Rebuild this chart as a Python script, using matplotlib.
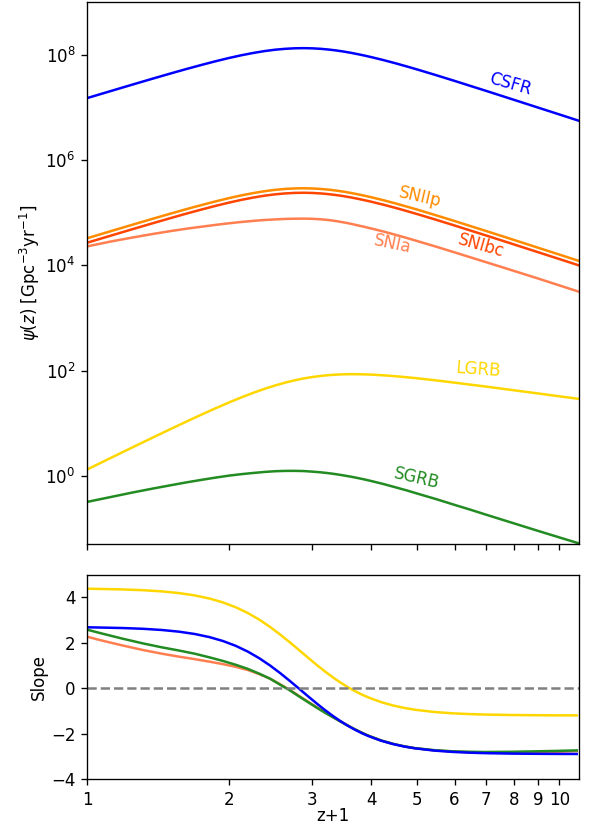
import matplotlib
matplotlib.use('Agg')
import matplotlib.pyplot as plt
import numpy as np
from matplotlib.ticker import NullLocator

# redshift grid (z+1) for the rate curves
zp1 = [1.0, 1.125, 1.25, 1.375, 1.5, 1.625, 1.75, 1.875, 2.0, 2.125,
       2.25, 2.375, 2.5, 2.625, 2.75, 2.875, 3.0, 3.125, 3.25, 3.375,
       3.5, 3.625, 3.75, 3.875, 4.0, 4.25, 4.5, 4.75, 5.0, 5.5,
       6.0, 6.5, 7.0, 8.0, 9.0, 10.0, 11.0]

# log10 of the volumetric rates [Gpc^-3 yr^-1]
log_csfr = [7.175, 7.312, 7.434, 7.543, 7.641, 7.729, 7.807, 7.877, 7.938, 7.990,
            8.033, 8.068, 8.094, 8.111, 8.121, 8.124, 8.120, 8.111, 8.097, 8.079,
            8.058, 8.034, 8.008, 7.981, 7.953, 7.895, 7.836, 7.777, 7.719, 7.607,
            7.502, 7.403, 7.312, 7.145, 6.997, 6.865, 6.745]
log_sniip = [4.515, 4.652, 4.774, 4.883, 4.981, 5.069, 5.147, 5.217, 5.278, 5.330,
             5.373, 5.408, 5.434, 5.451, 5.461, 5.464, 5.460, 5.451, 5.437, 5.419,
             5.398, 5.374, 5.348, 5.321, 5.293, 5.235, 5.176, 5.117, 5.059, 4.947,
             4.842, 4.743, 4.652, 4.485, 4.337, 4.205, 4.085]
log_snibc = [4.430, 4.567, 4.689, 4.798, 4.896, 4.984, 5.062, 5.132, 5.193, 5.245,
             5.288, 5.323, 5.349, 5.366, 5.376, 5.379, 5.375, 5.366, 5.352, 5.334,
             5.313, 5.289, 5.263, 5.236, 5.208, 5.150, 5.091, 5.032, 4.974, 4.862,
             4.757, 4.658, 4.567, 4.400, 4.252, 4.120, 4.000]
log_snia = [4.360, 4.455, 4.530, 4.595, 4.650, 4.697, 4.735, 4.770, 4.800, 4.825,
            4.845, 4.862, 4.873, 4.882, 4.886, 4.888, 4.884, 4.875, 4.860, 4.840,
            4.815, 4.788, 4.758, 4.729, 4.700, 4.641, 4.580, 4.521, 4.462, 4.352,
            4.247, 4.150, 4.060, 3.897, 3.753, 3.620, 3.500]
log_lgrb = [0.125, 0.349, 0.549, 0.728, 0.890, 1.037, 1.171, 1.291, 1.400, 1.497,
            1.582, 1.657, 1.720, 1.774, 1.818, 1.854, 1.881, 1.902, 1.917, 1.927,
            1.933, 1.935, 1.934, 1.931, 1.927, 1.913, 1.896, 1.877, 1.857, 1.816,
            1.774, 1.735, 1.699, 1.630, 1.570, 1.515, 1.466]
log_sgrb = [-0.490, -0.395, -0.310, -0.238, -0.175, -0.118, -0.070, -0.027, 0.010, 0.038,
            0.060, 0.079, 0.093, 0.099, 0.100, 0.096, 0.085, 0.072, 0.055, 0.035,
            0.012, -0.012, -0.038, -0.065, -0.094, -0.152, -0.213, -0.271, -0.331, -0.440,
            -0.546, -0.641, -0.733, -0.895, -1.038, -1.164, -1.277]

# logarithmic slopes d log(psi) / d log(1+z), from finite differences
zp1_slope = [1.0, 1.065, 1.19, 1.315, 1.44, 1.565, 1.69, 1.815, 1.94, 2.065,
             2.19, 2.315, 2.44, 2.565, 2.69, 2.815, 2.94, 3.065, 3.19, 3.315,
             3.44, 3.565, 3.69, 3.815, 3.94, 4.19, 4.44, 4.69, 4.94, 5.44,
             5.94, 6.44, 6.94, 7.94, 8.94, 9.94, 10.88]
slope_csfr = [2.683, 2.672, 2.650, 2.616, 2.564, 2.490, 2.388, 2.252, 2.078, 1.865,
              1.611, 1.321, 1.001, 0.661, 0.313, -0.032, -0.365, -0.677, -0.964, -1.222,
              -1.452, -1.653, -1.827, -1.977, -2.106, -2.311, -2.459, -2.568, -2.647, -2.749,
              -2.806, -2.840, -2.860, -2.881, -2.890, -2.895, -2.897]
slope_lgrb = [4.383, 4.372, 4.350, 4.316, 4.264, 4.190, 4.088, 3.952, 3.778, 3.565,
              3.311, 3.021, 2.701, 2.361, 2.013, 1.668, 1.335, 1.023, 0.736, 0.478,
              0.248, 0.047, -0.127, -0.277, -0.406, -0.611, -0.759, -0.868, -0.947, -1.049,
              -1.106, -1.140, -1.160, -1.181, -1.190, -1.195, -1.197]
slope_sgrb = [2.58, 2.43, 2.18, 1.97, 1.80, 1.66, 1.52, 1.36, 1.20, 1.03,
              0.85, 0.64, 0.42, 0.15, -0.10, -0.37, -0.62, -0.86, -1.08, -1.28,
              -1.47, -1.65, -1.81, -1.96, -2.09, -2.30, -2.45, -2.56, -2.64, -2.73,
              -2.78, -2.80, -2.81, -2.80, -2.78, -2.76, -2.74]
slope_snia = [2.27, 2.12, 1.88, 1.68, 1.52, 1.39, 1.28, 1.17, 1.06, 0.94,
              0.80, 0.62, 0.42, 0.17, -0.08, -0.35, -0.60, -0.84, -1.06, -1.27,
              -1.46, -1.64, -1.81, -1.96, -2.09, -2.30, -2.45, -2.56, -2.64, -2.74,
              -2.79, -2.82, -2.83, -2.83, -2.82, -2.80, -2.77]

xticks = [1, 2, 3, 4, 5, 6, 7, 8, 9, 10]

fig, (ax1, ax2) = plt.subplots(2, 1, sharex=True, figsize=(4.95, 829 / 120), dpi=120,
                               gridspec_kw={'height_ratios': [2.653, 1], 'hspace': 0.082})
fig.subplots_adjust(left=0.1465, right=0.9747, top=0.9976, bottom=0.0603)

curves = [
    (log_csfr, 'blue'),
    (log_sniip, 'darkorange'),
    (log_snibc, 'orangered'),
    (log_snia, 'coral'),
    (log_lgrb, 'gold'),
    (log_sgrb, 'forestgreen'),
]
for vals, col in curves:
    ax1.plot(zp1, np.power(10.0, vals), color=col, lw=1.5)

ax1.text(7.88, 2.71e7, 'CSFR', color='blue', rotation=-16, ha='center', va='center')
ax1.text(5.06, 1.94e5, 'SNIIp', color='darkorange', rotation=-13, ha='center', va='center')
ax1.text(6.84, 2.39e4, 'SNIbc', color='orangered', rotation=-16, ha='center', va='center')
ax1.text(4.43, 2.49e4, 'SNIa', color='coral', rotation=-12, ha='center', va='center')
ax1.text(6.74, 106, 'LGRB', color='gold', rotation=-4, ha='center', va='center')
ax1.text(4.99, 0.905, 'SGRB', color='forestgreen', rotation=-13, ha='center', va='center')

ax1.set_xscale('log')
ax1.set_yscale('log')
ax1.set_xlim(1, 11)
ax1.set_ylim(10 ** -1.29, 1e9)
ax1.set_yticks([1e0, 1e2, 1e4, 1e6, 1e8])
ax1.yaxis.set_minor_locator(NullLocator())
ax1.set_ylabel(r'$\psi(z)$ [Gpc$^{-3}$yr$^{-1}$]', labelpad=2)

ax2.plot(zp1_slope, slope_lgrb, color='gold', lw=1.5)
ax2.plot(zp1_slope, slope_snia, color='coral', lw=1.5)
ax2.plot(zp1_slope, slope_sgrb, color='forestgreen', lw=1.5)
ax2.plot(zp1_slope, slope_csfr, color='blue', lw=1.5)
ax2.axhline(0, color='gray', ls='--', lw=1.5)

ax2.set_ylim(-4, 5)
ax2.set_yticks([-4, -2, 0, 2, 4])
ax2.set_xticks(xticks)
ax2.set_xticklabels([str(t) for t in xticks])
ax2.xaxis.set_minor_locator(NullLocator())
ax2.set_xlabel('z+1', labelpad=-1)
ax2.set_ylabel('Slope', labelpad=2)

fig.savefig('out.png', dpi=120)
